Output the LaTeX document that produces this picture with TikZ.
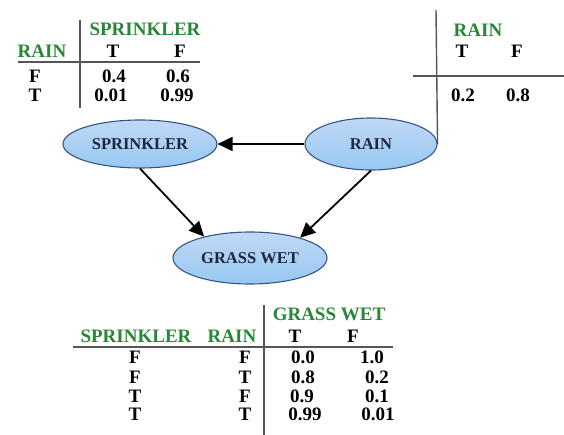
\documentclass[tikz,border=0pt]{standalone}
\usepackage{fontspec}
\setmainfont{Liberation Serif}
\usetikzlibrary{arrows.meta,shapes.geometric}
\definecolor{hdrgreen}{RGB}{40,135,55}
\definecolor{rulegray}{RGB}{85,85,85}
\definecolor{elltop}{RGB}{192,216,246}
\definecolor{ellmid}{RGB}{214,233,251}
\definecolor{ellbot}{RGB}{150,200,242}
\definecolor{elledge}{RGB}{55,85,130}
\definecolor{elltext}{RGB}{30,38,60}
\begin{document}
\begin{tikzpicture}[x=1pt,y=-1pt,
  hdr/.style={anchor=base,inner sep=0pt,text=hdrgreen,font=\fontsize{19}{19}\selectfont\bfseries},
  cell/.style={anchor=base,inner sep=0pt,text=black,font=\fontsize{19}{19}\selectfont\bfseries},
  rulel/.style={draw=rulegray,line width=1.4pt},
  bnode/.style={ellipse,draw=elledge,line width=1.1pt,top color=elltop,middle color=ellmid,bottom color=ellbot,inner sep=0pt,text=elltext,font=\fontsize{16.5}{16.5}\selectfont\bfseries},
  edge/.style={line width=1.8pt,-{Triangle[length=15pt,width=14pt]}}
]
\useasboundingbox (0,0) rectangle (564,435);
% ---------- nodes ----------
\node[bnode,minimum width=154pt,minimum height=48pt] (spr) at (140,144) {SPRINKLER};
\node[bnode,minimum width=132pt,minimum height=52pt] (rain) at (371,144) {RAIN};
\node[bnode,minimum width=154pt,minimum height=52pt] (gw) at (250,258) {GRASS WET};
\draw[edge] (rain.west) -- (spr.east);
\draw[edge] (spr.south) -- (gw.155);
\draw[edge] (rain.south) -- (gw.22);
% ---------- top-left table ----------
\coordinate (tlv1) at (80,20);
\coordinate (tlv2) at (80,108);
\coordinate (tlh1) at (18,62);
\coordinate (tlh2) at (200,62);
\draw[rulel] (tlv1) -- (tlv2);
\draw[rulel] (tlh1) -- (tlh2);
\node[hdr] (tlspr) at (145,36) {SPRINKLER};
\node[hdr] (tlrain) at (42,58) {RAIN};
\node[cell] (tlT) at (113,58) {T};
\node[cell] (tlF) at (180,58) {F};
\node[cell] (tlr1) at (35,83) {F};
\node[cell] (tlr1a) at (114,83) {0.4};
\node[cell] (tlr1b) at (178,83) {0.6};
\node[cell] (tlr2) at (35,102) {T};
\node[cell] (tlr2a) at (111,102) {0.01};
\node[cell] (tlr2b) at (177,102) {0.99};
% ---------- top-right table ----------
\coordinate (trv1) at (436,10);
\coordinate (trh1) at (413,76);
\coordinate (trh2) at (564,76);
\draw[rulel] (trv1) -- (rain.east);
\draw[rulel] (trh1) -- (trh2);
\node[hdr] (trrain) at (478,37) {RAIN};
\node[cell] (trT) at (462,58) {T};
\node[cell] (trF) at (517,58) {F};
\node[cell] (tra) at (463,102) {0.2};
\node[cell] (trb) at (518,102) {0.8};
% ---------- bottom table ----------
\coordinate (bv1) at (264,305);
\coordinate (bv2) at (264,435);
\coordinate (bh1) at (73,347);
\coordinate (bh2) at (393,347);
\draw[rulel] (bv1) -- (bv2);
\draw[rulel] (bh1) -- (bh2);
\node[hdr] (bgw) at (329,320) {GRASS WET};
\node[hdr] (bspr) at (136,342) {SPRINKLER};
\node[hdr] (brain) at (232,342) {RAIN};
\node[cell] (bT) at (295,342) {T};
\node[cell] (bF) at (353,342) {F};
\node[cell] (b1a) at (135,363) {F};
\node[cell] (b1b) at (245,363) {F};
\node[cell] (b1c) at (303,363) {0.0};
\node[cell] (b1d) at (372,363) {1.0};
\node[cell] (b2a) at (135,383) {F};
\node[cell] (b2b) at (245,383) {T};
\node[cell] (b2c) at (303,383) {0.8};
\node[cell] (b2d) at (377,383) {0.2};
\node[cell] (b3a) at (135,402) {T};
\node[cell] (b3b) at (245,402) {F};
\node[cell] (b3c) at (302,402) {0.9};
\node[cell] (b3d) at (377,402) {0.1};
\node[cell] (b4a) at (135,420) {T};
\node[cell] (b4b) at (245,420) {T};
\node[cell] (b4c) at (305,420) {0.99};
\node[cell] (b4d) at (378,420) {0.01};
\end{tikzpicture}
\end{document}
